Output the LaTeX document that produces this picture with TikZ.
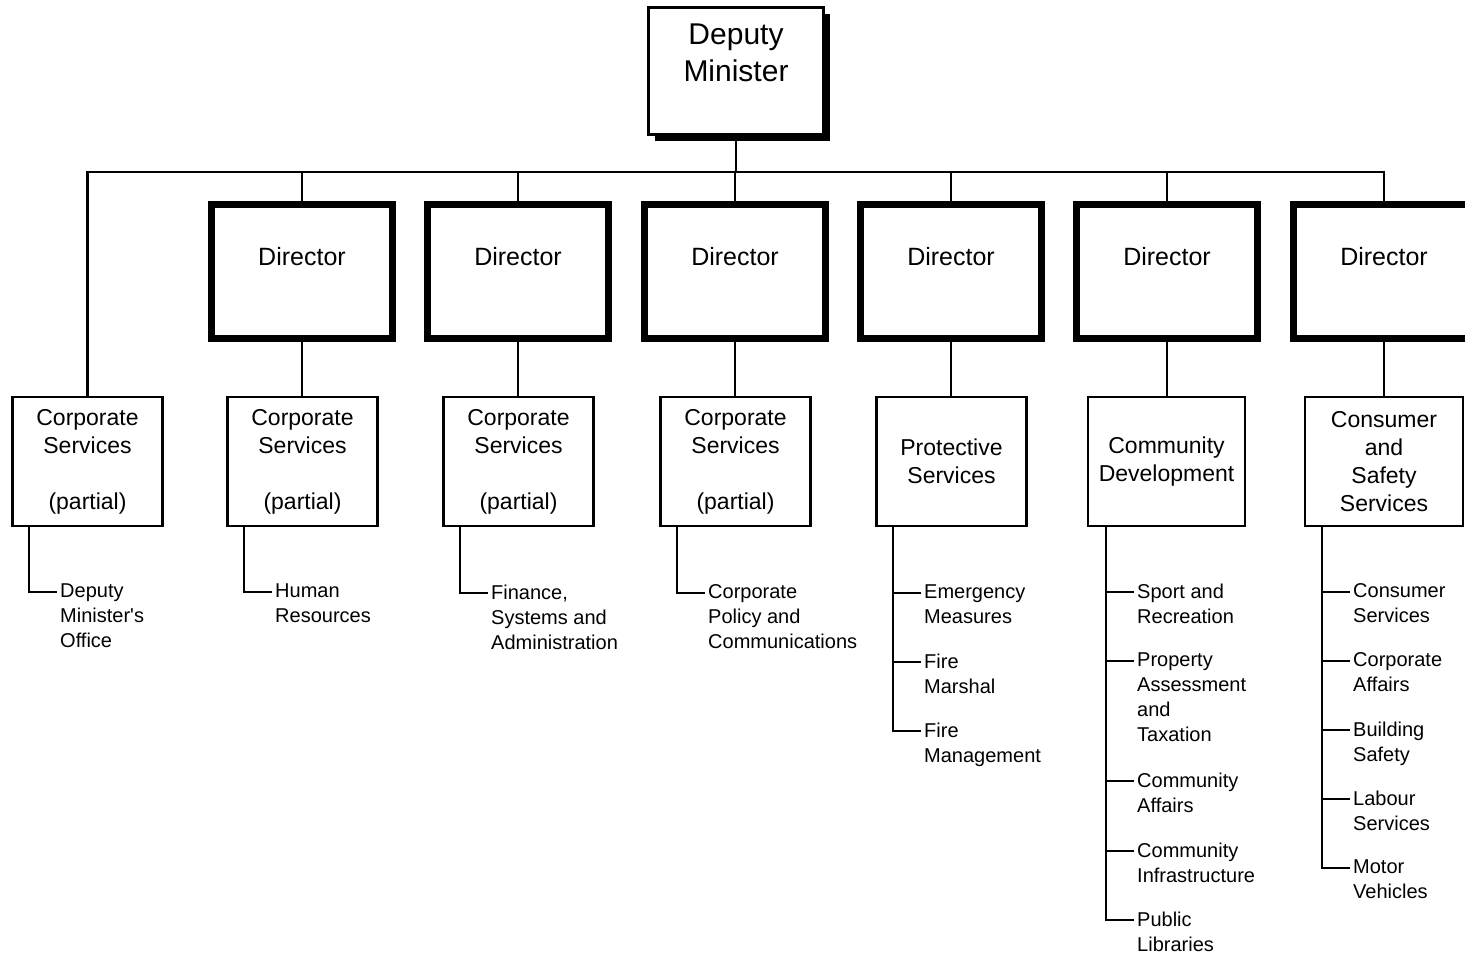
\documentclass[tikz,border=0pt]{standalone}
\usepackage{fontspec}
\setmainfont{Liberation Sans}
\usetikzlibrary{shadows}

\tikzset{
    headbox/.style={draw, line width=2.2bp, fill=white, minimum width=175bp, minimum height=127bp, align=center,
        font=\fontsize{30bp}{37bp}\selectfont,
        drop shadow={shadow xshift=6bp, shadow yshift=-6bp, fill=black, opacity=1}},
    dirbox/.style={draw, line width=7bp, minimum width=181bp, minimum height=134bp, align=center,
        font=\fontsize{25bp}{30bp}\selectfont},
    unitbox/.style={draw, line width=2.2bp, minimum width=150bp, minimum height=129bp, align=center,
        font=\fontsize{23bp}{28bp}\selectfont},
    unititem/.style={anchor=north west, yshift=8.5bp, inner xsep=3bp, inner ysep=0pt, align=left,
        font=\fontsize{20bp}{25bp}\selectfont, execute at begin node={\rule{0pt}{16bp}}},
    link/.style={line width=2.2bp}
}

\begin{document}
\begin{tikzpicture}[x=1bp, y=-1bp]
    \useasboundingbox (0,0) rectangle (1465,954);

    % Top box
    \node[headbox] (dm) at (736,71) {Deputy\\Minister\\~};
    \coordinate (bus) at (736,172);

    % Directors
    \node[dirbox] (dir2) at (302,271.5) {Director\\~};
    \node[dirbox] (dir3) at (518,271.5) {Director\\~};
    \node[dirbox] (dir4) at (735,271.5) {Director\\~};
    \node[dirbox] (dir5) at (951,271.5) {Director\\~};
    \node[dirbox] (dir6) at (1167,271.5) {Director\\~};
    \node[dirbox] (dir7) at (1384,271.5) {Director\\~};

    % Branches
    \node[unitbox] (cs1) at (87.5,461.5) {Corporate\\Services\\~\\(partial)};
    \node[unitbox] (cs2) at (302.5,461.5) {Corporate\\Services\\~\\(partial)};
    \node[unitbox] (cs3) at (518.5,461.5) {Corporate\\Services\\~\\(partial)};
    \node[unitbox] (cs4) at (735.5,461.5) {Corporate\\Services\\~\\(partial)};
    \node[unitbox] (ps) at (951.5,461.5) {Protective\\Services};
    \node[unitbox, minimum width=157bp] (cd) at (1166.5,461.5) {Community\\Development};
    \node[unitbox, minimum width=158bp] (css) at (1384,461.5) {Consumer\\and\\Safety\\Services};

    % Tree lines
    \draw[link] (dm) -- (bus);
    \draw[link] (cs1.north) |- (bus) -| (dir7.north);
    \foreach \d/\u in {dir2/cs2, dir3/cs3, dir4/cs4, dir5/ps, dir6/cd, dir7/css} {
        \draw[link] (\d.north) -- (\d.north |- bus);
        \draw[link] (\d.south) -- (\d.south |- \u.north);
    }

    % Sections under Corporate Services
    \coordinate (t1a) at (29,592);
    \coordinate (t2a) at (244,592);
    \coordinate (t3a) at (460,593);
    \coordinate (t4a) at (677,593);
    \draw[link] (cs1.south -| t1a) -- (t1a) -- ++(28,0);
    \draw[link] (cs2.south -| t2a) -- (t2a) -- ++(28,0);
    \draw[link] (cs3.south -| t3a) -- (t3a) -- ++(28,0);
    \draw[link] (cs4.south -| t4a) -- (t4a) -- ++(28,0);
    \node[unititem] (s1a) at ([xshift=28bp]t1a) {Deputy\\Minister\textquotesingle s\\Office};
    \node[unititem] (s2a) at ([xshift=28bp]t2a) {Human\\Resources};
    \node[unititem] (s3a) at ([xshift=28bp]t3a) {Finance,\\Systems and\\Administration};
    \node[unititem] (s4a) at ([xshift=28bp]t4a) {Corporate\\Policy and\\Communications};

    % Sections under Protective Services
    \coordinate (t5a) at (893,593);
    \coordinate (t5b) at (893,662);
    \coordinate (t5c) at (893,731);
    \draw[link] (ps.south -| t5c) -- (t5c) -- ++(28,0);
    \draw[link] (t5a) -- ++(28,0);
    \draw[link] (t5b) -- ++(28,0);
    \node[unititem] (s5a) at ([xshift=28bp]t5a) {Emergency\\Measures};
    \node[unititem] (s5b) at ([xshift=28bp]t5b) {Fire\\Marshal};
    \node[unititem] (s5c) at ([xshift=28bp]t5c) {Fire\\Management};

    % Sections under Community Development
    \coordinate (t6a) at (1106,592);
    \coordinate (t6b) at (1106,661);
    \coordinate (t6c) at (1106,781);
    \coordinate (t6d) at (1106,851);
    \coordinate (t6e) at (1106,920);
    \draw[link] (cd.south -| t6e) -- (t6e) -- ++(28,0);
    \foreach \t in {t6a,t6b,t6c,t6d}
        \draw[link] (\t) -- ++(28,0);
    \node[unititem] (s6a) at ([xshift=28bp]t6a) {Sport and\\Recreation};
    \node[unititem] (s6b) at ([xshift=28bp]t6b) {Property\\Assessment\\and\\Taxation};
    \node[unititem] (s6c) at ([xshift=28bp]t6c) {Community\\Affairs};
    \node[unititem] (s6d) at ([xshift=28bp]t6d) {Community\\Infrastructure};
    \node[unititem] (s6e) at ([xshift=28bp]t6e) {Public\\Libraries};

    % Sections under Consumer and Safety Services
    \coordinate (t7a) at (1322,592);
    \coordinate (t7b) at (1322,661);
    \coordinate (t7c) at (1322,730);
    \coordinate (t7d) at (1322,799);
    \coordinate (t7e) at (1322,868);
    \draw[link] (css.south -| t7e) -- (t7e) -- ++(28,0);
    \foreach \t in {t7a,t7b,t7c,t7d}
        \draw[link] (\t) -- ++(28,0);
    \node[unititem] (s7a) at ([xshift=28bp]t7a) {Consumer\\Services};
    \node[unititem] (s7b) at ([xshift=28bp]t7b) {Corporate\\Affairs};
    \node[unititem] (s7c) at ([xshift=28bp]t7c) {Building\\Safety};
    \node[unititem] (s7d) at ([xshift=28bp]t7d) {Labour\\Services};
    \node[unititem] (s7e) at ([xshift=28bp]t7e) {Motor\\Vehicles};
\end{tikzpicture}
\end{document}
